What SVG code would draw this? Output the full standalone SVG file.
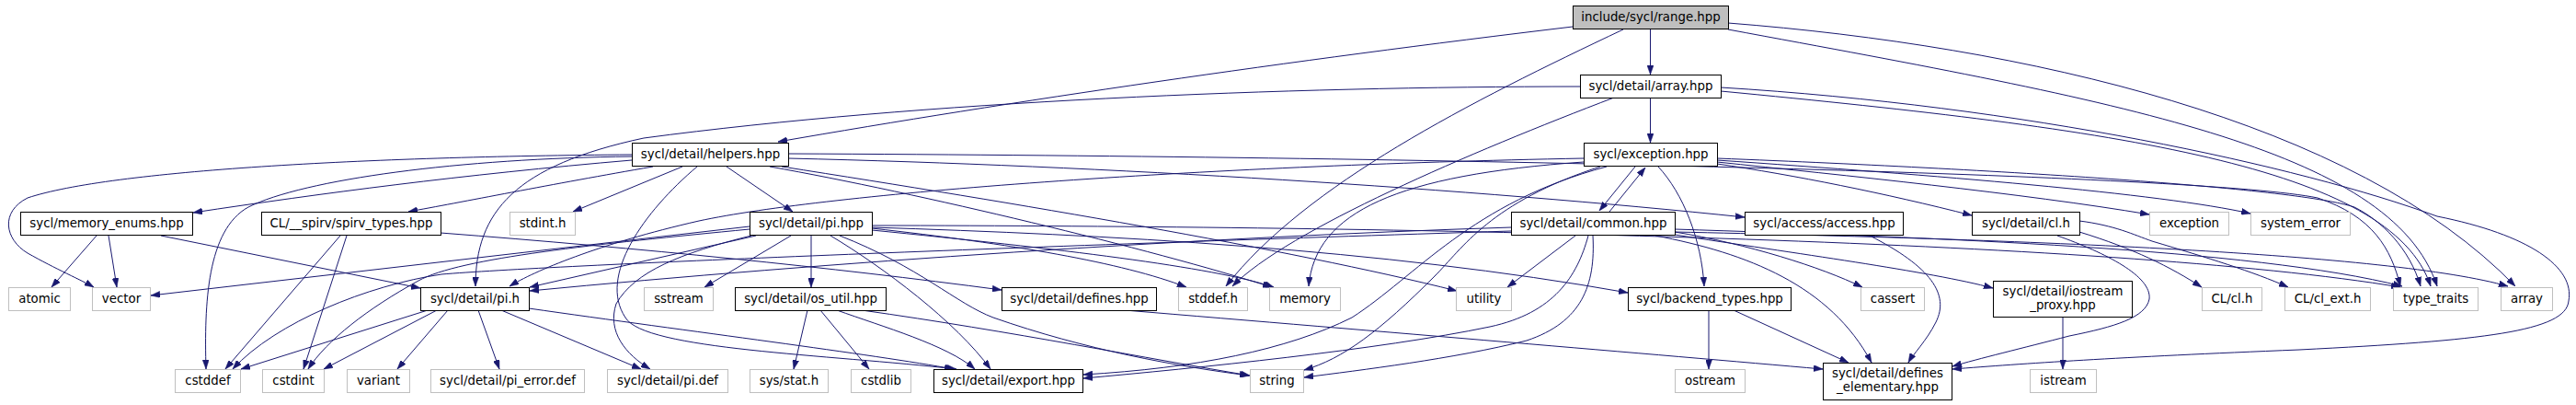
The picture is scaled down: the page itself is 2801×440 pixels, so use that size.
<svg xmlns="http://www.w3.org/2000/svg" width="2801" height="440" viewBox="0 0 2801 440">
<style>
text{font-family:"DejaVu Sans","Liberation Sans",sans-serif;font-size:13.33px;text-anchor:middle;fill:#000}
.n rect{fill:#fff;stroke:#000;stroke-width:1}
.s rect{fill:#fff;stroke:#bfbfbf;stroke-width:1}
.r rect{fill:#bfbfbf;stroke:#000;stroke-width:1}
#edges path{fill:none;stroke:#191970;stroke-width:1;marker-end:url(#a)}
</style>
<defs>
<marker id="a" viewBox="0 0 10 7" refX="10" refY="3.5" markerWidth="10" markerHeight="7" markerUnits="userSpaceOnUse" orient="auto">
<path d="M0,0 L10,3.5 L0,7 z" fill="#191970" stroke="#191970" stroke-width="0.5"/>
</marker>
</defs>
<rect width="2801" height="440" fill="#fff"/>
<g id="edges">
<path d="M1794.5,31 L1794.5,81"/>
<path d="M1710,29 C1400,66 1100,110 846,154"/>
<path d="M1765,32 C1600,110 1420,200 1333,311"/>
<path d="M1879,25 C2200,50 2560,130 2735,311"/>
<path d="M1879,32 C2300,110 2600,160 2650,311"/>
<path d="M1794.5,106 L1794.5,155"/>
<path d="M1718,94 C1400,94 1000,110 700,150 C560,180 517,230 517,311"/>
<path d="M1755,106 C1600,165 1400,250 1340,311"/>
<path d="M1871,99 C2300,140 2600,180 2643,311"/>
<path d="M1871,95 C2200,115 2500,180 2650,235 C2750,255 2800,290 2793,327 C2790,360 2700,370 2500,380 C2300,388 2200,395 2123,401"/>
<path d="M1778,181 L1739,229"/>
<path d="M1750,230 L1789,182"/>
<path d="M1722,176 C1520,190 1430,230 1423,311"/>
<path d="M1722,172 C1300,180 900,210 760,240 C650,265 580,295 554,311"/>
<path d="M1747,181 C1600,220 1540,300 1470,345 C1400,380 1300,400 1178,407"/>
<path d="M1740,181 C1620,220 1590,270 1560,300 C1500,360 1460,390 1418,402"/>
<path d="M1803,181 C1830,210 1850,260 1853,311"/>
<path d="M1867,178 C1950,190 2050,210 2144,234"/>
<path d="M1867,176 C2000,190 2200,210 2337,233"/>
<path d="M1867,174 C2100,190 2350,210 2447,232"/>
<path d="M1867,172 C2200,185 2500,205 2560,225 C2590,240 2620,270 2632,311"/>
<path d="M1643,247 C1300,258 900,285 576,316"/>
<path d="M1643,251 C1100,268 600,288 480,298 C400,310 300,350 253,401"/>
<path d="M1713,256 L1639,312"/>
<path d="M1727,256 C1715,300 1690,340 1620,355 C1500,380 1300,400 1178,411"/>
<path d="M1732,256 C1735,310 1720,350 1660,370 C1580,390 1480,402 1418,410"/>
<path d="M1821,252 C1900,265 1980,290 2025,312"/>
<path d="M1821,255 C1950,275 2100,295 2167,313"/>
<path d="M1800,256 C1900,275 1990,310 2035,394"/>
<path d="M1821,249 C2100,258 2450,270 2612,311"/>
<path d="M1821,252 C2200,260 2600,275 2727,311"/>
<path d="M822,256 L576,312"/>
<path d="M860,256 L766,312"/>
<path d="M882,256 L882,312"/>
<path d="M815,246 L164,321"/>
<path d="M817,256 C740,275 690,295 670,330 C660,360 680,385 707,401"/>
<path d="M903,256 C960,290 1040,350 1077,401"/>
<path d="M913,256 C1000,290 1040,330 1080,345 C1180,380 1280,398 1358,408"/>
<path d="M948,248 C1100,265 1220,285 1290,312"/>
<path d="M948,250 C1150,270 1320,290 1385,312"/>
<path d="M948,247 C1200,255 1500,270 1770,318"/>
<path d="M948,245 C1500,245 2300,260 2610,312"/>
<path d="M815,249 C650,265 500,280 455,305 C400,335 355,370 335,401"/>
<path d="M687,174 C500,190 350,210 210,231"/>
<path d="M710,181 C600,200 500,220 444,230"/>
<path d="M687,168 C400,170 120,185 30,215 C0,230 5,260 30,275 C60,292 90,305 102,312"/>
<path d="M687,170 C500,172 330,195 270,225 C225,250 222,330 224,401"/>
<path d="M742,181 L623,230"/>
<path d="M790,181 L862,230"/>
<path d="M758,181 C700,230 650,300 680,345 C700,380 900,385 1040,401"/>
<path d="M837,181 C1000,210 1250,270 1383,312"/>
<path d="M850,181 C1100,220 1400,270 1584,316"/>
<path d="M857,172 C1200,180 1600,205 1897,236"/>
<path d="M857,167 C1600,170 2400,190 2520,215 C2580,235 2600,270 2610,311"/>
<path d="M465,337 L262,401"/>
<path d="M475,337 L352,401"/>
<path d="M487,337 L432,401"/>
<path d="M520,337 L543,401"/>
<path d="M545,337 L697,401"/>
<path d="M575,335 C750,360 950,385 1037,401"/>
<path d="M105,256 L56,312"/>
<path d="M118,256 L127,312"/>
<path d="M175,256 L457,313"/>
<path d="M370,256 L245,401"/>
<path d="M377,256 L330,401"/>
<path d="M479,253 C700,270 900,290 1089,315"/>
<path d="M878,337 L863,401"/>
<path d="M892,337 L945,401"/>
<path d="M910,337 C960,355 1030,375 1060,401"/>
<path d="M937,337 C1100,360 1250,390 1359,408"/>
<path d="M1223,337 C1500,360 1800,385 1982,401"/>
<path d="M1858,337 L1858,401"/>
<path d="M1885,337 L2010,394"/>
<path d="M2033,256 C2100,290 2120,320 2105,350 C2095,370 2080,385 2075,394"/>
<path d="M2261,252 C2320,270 2360,290 2394,312"/>
<path d="M2237,256 C2290,275 2340,300 2337,325 C2333,345 2300,355 2250,365 C2200,378 2150,390 2123,398"/>
<path d="M2261,240 C2300,245 2320,255 2340,262 C2400,280 2450,295 2488,312"/>
<path d="M2243,344 L2243,401"/>
</g>
<g id="n_range" class="r"><rect x="1710.5" y="6.5" width="169" height="25"/><text x="1795" y="23">include/sycl/range.hpp</text></g>
<g id="n_array_hpp" class="n"><rect x="1718.5" y="81.5" width="153" height="25"/><text x="1795" y="98">sycl/detail/array.hpp</text></g>
<g id="n_helpers" class="n"><rect x="687.5" y="155.5" width="170" height="25"/><text x="772.5" y="172">sycl/detail/helpers.hpp</text></g>
<g id="n_exception_hpp" class="n"><rect x="1722.5" y="155.5" width="145" height="25"/><text x="1795" y="172">sycl/exception.hpp</text></g>
<g id="n_memory_enums" class="n"><rect x="22.5" y="230.5" width="187" height="25"/><text x="116" y="247">sycl/memory_enums.hpp</text></g>
<g id="n_spirv_types" class="n"><rect x="284.5" y="230.5" width="195" height="25"/><text x="382" y="247">CL/__spirv/spirv_types.hpp</text></g>
<g id="n_stdint_h" class="s"><rect x="554.5" y="230.5" width="71" height="25"/><text x="590" y="247">stdint.h</text></g>
<g id="n_pi_hpp" class="n"><rect x="815.5" y="230.5" width="133" height="25"/><text x="882" y="247">sycl/detail/pi.hpp</text></g>
<g id="n_common" class="n"><rect x="1643.5" y="230.5" width="178" height="25"/><text x="1732.5" y="247">sycl/detail/common.hpp</text></g>
<g id="n_access" class="n"><rect x="1897.5" y="230.5" width="172" height="25"/><text x="1983.5" y="247">sycl/access/access.hpp</text></g>
<g id="n_cl_h" class="n"><rect x="2144.5" y="230.5" width="117" height="25"/><text x="2203" y="247">sycl/detail/cl.h</text></g>
<g id="n_exception" class="s"><rect x="2337.5" y="230.5" width="86" height="25"/><text x="2380.5" y="247">exception</text></g>
<g id="n_system_error" class="s"><rect x="2447.5" y="230.5" width="108" height="25"/><text x="2501.5" y="247">system_error</text></g>
<g id="n_atomic" class="s"><rect x="9.5" y="312.5" width="67" height="25"/><text x="43" y="329">atomic</text></g>
<g id="n_vector" class="s"><rect x="100.5" y="312.5" width="63" height="25"/><text x="132" y="329">vector</text></g>
<g id="n_pi_h" class="n"><rect x="457.5" y="312.5" width="118" height="25"/><text x="516.5" y="329">sycl/detail/pi.h</text></g>
<g id="n_sstream" class="s"><rect x="700.5" y="312.5" width="75" height="25"/><text x="738" y="329">sstream</text></g>
<g id="n_os_util" class="n"><rect x="799.5" y="312.5" width="164" height="25"/><text x="881.5" y="329">sycl/detail/os_util.hpp</text></g>
<g id="n_defines" class="n"><rect x="1089.5" y="312.5" width="168" height="25"/><text x="1173.5" y="329">sycl/detail/defines.hpp</text></g>
<g id="n_stddef_h" class="s"><rect x="1281.5" y="312.5" width="75" height="25"/><text x="1319" y="329">stddef.h</text></g>
<g id="n_memory" class="s"><rect x="1380.5" y="312.5" width="77" height="25"/><text x="1419" y="329">memory</text></g>
<g id="n_utility" class="s"><rect x="1583.5" y="312.5" width="60" height="25"/><text x="1613.5" y="329">utility</text></g>
<g id="n_backend_types" class="n"><rect x="1770.5" y="312.5" width="177" height="25"/><text x="1859" y="329">sycl/backend_types.hpp</text></g>
<g id="n_cassert" class="s"><rect x="2023.5" y="312.5" width="69" height="25"/><text x="2058" y="329">cassert</text></g>
<g id="n_iostream_proxy" class="n"><rect x="2167.5" y="305.5" width="151" height="39"/><text x="2243" y="321">sycl/detail/iostream</text><text x="2243" y="336">_proxy.hpp</text></g>
<g id="n_cl_cl_h" class="s"><rect x="2394.5" y="312.5" width="65" height="25"/><text x="2427" y="329">CL/cl.h</text></g>
<g id="n_cl_ext_h" class="s"><rect x="2484.5" y="312.5" width="93" height="25"/><text x="2531" y="329">CL/cl_ext.h</text></g>
<g id="n_type_traits" class="s"><rect x="2602.5" y="312.5" width="92" height="25"/><text x="2648.5" y="329">type_traits</text></g>
<g id="n_array" class="s"><rect x="2719.5" y="312.5" width="56" height="25"/><text x="2747.5" y="329">array</text></g>
<g id="n_cstddef" class="s"><rect x="190.5" y="401.5" width="71" height="25"/><text x="226" y="418">cstddef</text></g>
<g id="n_cstdint" class="s"><rect x="285.5" y="401.5" width="67" height="25"/><text x="319" y="418">cstdint</text></g>
<g id="n_variant" class="s"><rect x="377.5" y="401.5" width="68" height="25"/><text x="411.5" y="418">variant</text></g>
<g id="n_pi_error_def" class="s"><rect x="468.5" y="401.5" width="167" height="25"/><text x="552" y="418">sycl/detail/pi_error.def</text></g>
<g id="n_pi_def" class="s"><rect x="660.5" y="401.5" width="131" height="25"/><text x="726" y="418">sycl/detail/pi.def</text></g>
<g id="n_sys_stat_h" class="s"><rect x="815.5" y="401.5" width="85" height="25"/><text x="858" y="418">sys/stat.h</text></g>
<g id="n_cstdlib" class="s"><rect x="925.5" y="401.5" width="65" height="25"/><text x="958" y="418">cstdlib</text></g>
<g id="n_export" class="n"><rect x="1015.5" y="401.5" width="162" height="25"/><text x="1096.5" y="418">sycl/detail/export.hpp</text></g>
<g id="n_string" class="s"><rect x="1359.5" y="401.5" width="58" height="25"/><text x="1388.5" y="418">string</text></g>
<g id="n_ostream" class="s"><rect x="1821.5" y="401.5" width="76" height="25"/><text x="1859.5" y="418">ostream</text></g>
<g id="n_defines_elementary" class="n"><rect x="1982.5" y="394.5" width="140" height="40"/><text x="2052.5" y="410">sycl/detail/defines</text><text x="2052.5" y="425">_elementary.hpp</text></g>
<g id="n_istream" class="s"><rect x="2207.5" y="401.5" width="72" height="25"/><text x="2243.5" y="418">istream</text></g>
</svg>
